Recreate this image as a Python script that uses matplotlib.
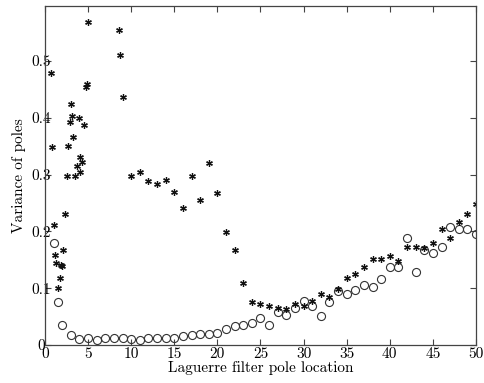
import matplotlib
matplotlib.use("Agg")
import matplotlib.pyplot as plt
import matplotlib.transforms as mtransforms

# Star series (non-integer pole locations on the left cluster, then integers)
star_x = [0.73, 0.81, 1.04, 1.12, 1.31, 1.51, 1.74, 1.90, 2.00, 2.09, 2.32, 2.51,
          2.70, 2.90, 3.02, 3.10, 3.30, 3.52, 3.71, 3.94, 4.02, 4.10, 4.30, 4.52,
          4.72, 4.90, 5.03, 8.62, 8.70, 9.00,
          10, 11, 12, 13, 14, 15, 16, 17, 18, 19, 20, 21, 22, 23, 24, 25, 26, 27,
          28, 29, 30, 31, 32, 33, 34, 35, 36, 37, 38, 39, 40, 41, 42, 43, 44, 45,
          46, 47, 48, 49, 50]
star_y = [0.479, 0.349, 0.212, 0.158, 0.145, 0.101, 0.118, 0.141, 0.139, 0.168, 0.231, 0.298,
          0.351, 0.393, 0.424, 0.404, 0.367, 0.297, 0.315, 0.400, 0.305, 0.331, 0.323, 0.387,
          0.455, 0.460, 0.568, 0.555, 0.510, 0.437,
          0.298, 0.305, 0.289, 0.283, 0.290, 0.270, 0.242, 0.298, 0.256, 0.320, 0.267, 0.199,
          0.167, 0.110, 0.076, 0.072, 0.069, 0.065, 0.063, 0.072, 0.069, 0.078, 0.089, 0.084,
          0.098, 0.118, 0.125, 0.138, 0.152, 0.152, 0.156, 0.148, 0.173, 0.172, 0.171, 0.180,
          0.205, 0.189, 0.217, 0.230, 0.248]

# Circle series
circ_x = [1, 1.5, 2, 3, 4, 5, 6, 7, 8, 9, 10, 11, 12, 13, 14, 15, 16, 17, 18, 19, 20,
          21, 22, 23, 24, 25, 26, 27, 28, 29, 30, 31, 32, 33, 34, 35, 36, 37, 38, 39, 40,
          41, 42, 43, 44, 45, 46, 47, 48, 49, 50]
circ_y = [0.179, 0.075, 0.035, 0.018, 0.010, 0.012, 0.009, 0.013, 0.012, 0.012, 0.011,
          0.009, 0.012, 0.012, 0.012, 0.012, 0.015, 0.018, 0.019, 0.019, 0.021,
          0.029, 0.034, 0.035, 0.039, 0.048, 0.036, 0.058, 0.052, 0.065, 0.078,
          0.069, 0.051, 0.075, 0.095, 0.090, 0.097, 0.105, 0.103, 0.116, 0.138,
          0.138, 0.189, 0.129, 0.167, 0.162, 0.172, 0.208, 0.204, 0.204, 0.196]

x_ticks = [0, 5, 10, 15, 20, 25, 30, 35, 40, 45, 50]
y_ticks = [0, 0.1, 0.2, 0.3, 0.4, 0.5]
y_tick_labels = ["0", "0.1", "0.2", "0.3", "0.4", "0.5"]
x_label = "Laguerre filter pole location"
y_label = "Variance of poles"

plt.rcParams["font.family"] = "serif"
plt.rcParams["font.serif"] = ["cmr10", "DejaVu Serif"]
plt.rcParams["mathtext.fontset"] = "cm"
plt.rcParams["axes.unicode_minus"] = False

fig = plt.figure(figsize=(4.85, 3.83), dpi=100)
ax = fig.add_axes([45 / 485, 1 - 345 / 383, (476 - 45) / 485, (345 - 6) / 383])

ax.plot(circ_x, circ_y, linestyle="none", marker="o", markersize=5.8,
        markerfacecolor="none", markeredgecolor="#333333", markeredgewidth=0.8)
ax.plot(star_x, star_y, linestyle="none", marker=(6, 2, 0), markersize=4.8,
        markeredgecolor="#111111", markeredgewidth=0.9)

ax.set_xlim(0, 50)
ax.set_ylim(0, 0.597)
ax.set_xticks(x_ticks)
ax.set_xticklabels([str(t) for t in x_ticks])
ax.set_yticks(y_ticks)
ax.set_yticklabels(y_tick_labels)

ax.tick_params(direction="in", top=True, right=True, length=4, width=0.8,
               labelsize=11, color="#444444")
ax.tick_params(axis="x", pad=2)
ax.tick_params(axis="y", pad=-4.5)
for s in ax.spines.values():
    s.set_color("#444444")
    s.set_linewidth(0.9)

# the "0" label on the y axis sits flush with the axis line
zero_lbl = ax.get_yticklabels()[0]
zero_lbl.set_transform(zero_lbl.get_transform() +
                       mtransforms.ScaledTranslation(-6 / 100, 0, fig.dpi_scale_trans))

ax.set_xlabel(x_label, fontsize=11, labelpad=0)
ax.set_ylabel(y_label, fontsize=11, labelpad=4)

fig.savefig("out.png", dpi=100)
